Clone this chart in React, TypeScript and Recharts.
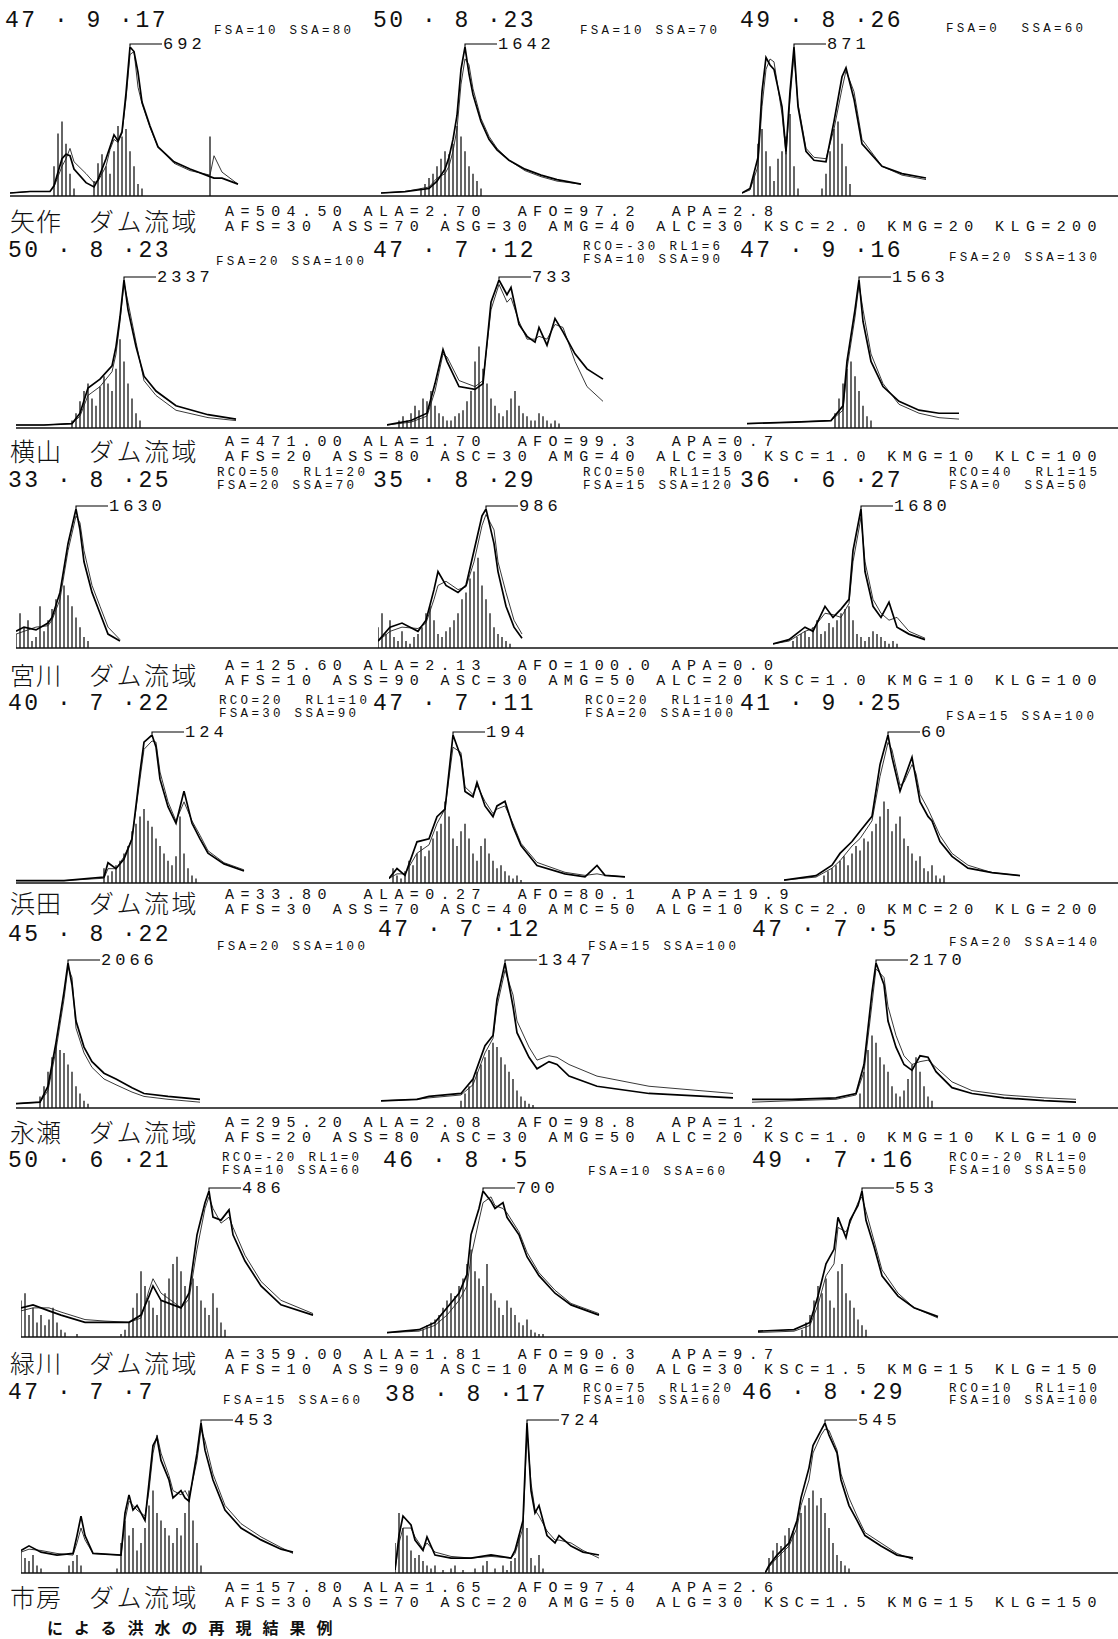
import React from 'react';
import { ComposedChart, Line, Bar, XAxis, YAxis, ReferenceDot } from 'recharts';

// ---------------- data (hours from start of each record, discharge m3/s, rainfall mm) ----------------
// Row 1 : 矢作
const r1aT = [0, 5, 10, 11, 13, 14, 15, 16, 19, 21, 22, 24, 25, 26, 27, 28, 29, 30, 31, 32, 33, 35, 37, 41, 45, 50, 51, 53, 57];
const r1aObs = [14, 21, 21, 48, 173, 194, 187, 125, 62, 42, 76, 173, 228, 284, 256, 298, 477, 692, 671, 574, 436, 325, 228, 159, 125, 90, 83, 83, 55];
const r1aCalc = [14, 21, 21, 42, 138, 173, 221, 159, 104, 62, 69, 138, 215, 263, 249, 291, 450, 657, 671, 505, 429, 318, 228, 152, 118, 97, 187, 111, 55];
const r1aRain = [20, 42, 50, 35, 15, 5, 0, 0, 0, 0, 10, 22, 28, 20, 15, 30, 47, 40, 45, 30, 20, 8, 5, 0, 0, 0, 0, 0, 0, 0, 0, 0, 0, 0, 0, 0, 0, 0, 0, 40];
const r1bT = [0, 6, 12, 14, 16, 17, 18, 19, 20, 21, 22, 23, 25, 27, 29, 32, 36, 40, 44, 50];
const r1bObs = [33, 49, 82, 164, 296, 427, 624, 887, 1396, 1642, 1346, 1117, 821, 624, 509, 394, 296, 230, 181, 131];
const r1bCalc = [33, 49, 99, 197, 246, 328, 493, 739, 1232, 1511, 1445, 1182, 854, 657, 525, 394, 279, 213, 164, 131];
const r1bRain = [5, 8, 12, 15, 20, 25, 30, 28, 35, 47, 40, 30, 20, 15, 10, 5];
const r1cT = [0, 2, 4, 5, 6, 7, 8, 10, 11, 12, 13, 14, 16, 18, 21, 23, 25, 26, 28, 30, 35, 40, 46];
const r1cObs = [17, 44, 226, 610, 810, 766, 740, 523, 261, 610, 871, 523, 261, 209, 200, 436, 697, 749, 566, 305, 174, 131, 105];
const r1cCalc = [17, 35, 174, 523, 740, 801, 784, 479, 244, 566, 827, 540, 279, 226, 218, 392, 627, 732, 610, 331, 174, 122, 96];
const r1cRain = [15, 35, 45, 30, 20, 10, 25, 30, 40, 55, 20, 5, 0, 0, 0, 0, 0, 5, 15, 30, 45, 50, 35, 20, 8];
// Row 2 : 横山
const r2aT = [0, 7, 14, 16, 18, 21, 24, 25, 26, 27, 28, 30, 32, 35, 40, 48, 55];
const r2aObs = [47, 47, 70, 234, 631, 771, 982, 1285, 1753, 2337, 1870, 1285, 818, 584, 351, 210, 140];
const r2aCalc = [47, 47, 70, 187, 514, 654, 888, 1169, 1683, 2290, 1986, 1355, 748, 514, 280, 164, 117];
const r2aRain = [5, 10, 18, 25, 30, 20, 15, 28, 35, 30, 25, 40, 60, 45, 30, 20, 10, 5];
const r2bT = [0, 6, 10, 12, 14, 15, 18, 22, 24, 26, 28, 30, 31, 33, 35, 37, 38, 40, 42, 44, 47, 50, 54];
const r2bObs = [15, 37, 73, 220, 388, 330, 205, 191, 220, 623, 733, 660, 696, 513, 454, 425, 498, 410, 542, 476, 367, 293, 242];
const r2bCalc = [15, 29, 59, 183, 367, 352, 235, 205, 235, 586, 711, 623, 645, 528, 440, 440, 454, 440, 513, 498, 330, 205, 132];
const r2bRain = [5, 8, 5, 10, 15, 12, 20, 18, 25, 15, 10, 8, 5, 5, 8, 10, 12, 18, 25, 45, 55, 40, 30, 20, 15, 10, 8, 12, 20, 25, 15, 10, 8, 5, 5, 10, 8, 5, 3, 5, 3];
const r2cT = [0, 12, 21, 24, 25, 27, 28, 29, 31, 34, 38, 43, 48, 53];
const r2cObs = [47, 63, 78, 234, 703, 1250, 1563, 1125, 703, 438, 281, 188, 156, 156];
const r2cCalc = [47, 63, 78, 188, 625, 1172, 1516, 1250, 782, 469, 250, 156, 109, 94];
const r2cRain = [10, 20, 30, 40, 45, 35, 25, 15, 8, 5];
// Row 3 : 宮川
const r3aT = [0, 2, 5, 8, 9, 11, 13, 15, 16, 17, 19, 21, 23, 26];
const r3aObs = [196, 245, 212, 293, 359, 652, 1223, 1630, 1386, 1011, 652, 408, 163, 82];
const r3aCalc = [163, 196, 245, 261, 326, 571, 1141, 1549, 1467, 1141, 734, 489, 245, 98];
const r3aRain = [10, 25, 15, 20, 5, 8, 30, 12, 20, 28, 35, 40, 45, 38, 30, 22, 15, 8, 5];
const r3bT = [0, 3, 6, 10, 12, 14, 15, 17, 20, 22, 24, 26, 27, 29, 30, 32, 34, 36];
const r3bObs = [49, 148, 177, 118, 197, 414, 542, 444, 394, 444, 690, 937, 986, 740, 542, 296, 148, 69];
const r3bCalc = [49, 118, 148, 138, 177, 345, 444, 473, 414, 434, 611, 868, 947, 838, 611, 394, 197, 99];
const r3bRain = [15, 25, 10, 20, 8, 5, 12, 5, 3, 8, 10, 15, 25, 30, 20, 10, 8, 12, 15, 20, 25, 35, 40, 50, 55, 65, 45, 35, 25, 15, 10, 8, 5, 3];
const r3cT = [0, 4, 8, 10, 13, 15, 17, 19, 20, 22, 23, 25, 27, 29, 31, 34, 38];
const r3cObs = [50, 101, 252, 202, 504, 370, 470, 588, 1176, 1680, 924, 504, 370, 554, 252, 168, 101];
const r3cCalc = [50, 84, 202, 235, 420, 403, 370, 538, 1042, 1579, 1042, 588, 420, 336, 370, 202, 118];
const r3cRain = [5, 8, 10, 12, 8, 15, 20, 10, 12, 18, 15, 20, 25, 28, 30, 20, 10, 8, 5, 8, 12, 10, 8, 5, 3, 5, 3];
// Row 4 : 浜田
const r4aT = [0, 12, 22, 23, 25, 27, 29, 31, 32, 34, 35, 36, 38, 40, 42, 44, 46, 48, 52, 57];
const r4aObs = [2, 2, 5, 17, 12, 20, 37, 93, 118, 124, 114, 87, 64, 50, 77, 50, 37, 25, 16, 10];
const r4aCalc = [2, 2, 4, 12, 12, 22, 37, 87, 112, 119, 118, 93, 68, 52, 68, 52, 40, 27, 17, 11];
const r4aRain = [10, 5, 8, 12, 15, 20, 25, 35, 40, 45, 50, 42, 38, 30, 25, 20, 15, 12, 18, 45, 20, 10, 5, 3];
const r4bT = [0, 2, 4, 7, 10, 12, 14, 16, 18, 19, 21, 22, 24, 26, 27, 29, 31, 33, 37, 44, 49, 52, 54, 59];
const r4bObs = [6, 19, 10, 54, 58, 87, 97, 194, 165, 120, 113, 132, 101, 87, 101, 107, 74, 49, 23, 12, 8, 23, 10, 8];
const r4bCalc = [6, 12, 12, 39, 50, 78, 97, 178, 171, 126, 116, 128, 107, 91, 97, 101, 78, 52, 27, 14, 10, 12, 10, 8];
const r4bRain = [10, 5, 3, 8, 15, 12, 20, 25, 18, 22, 30, 35, 40, 55, 45, 30, 25, 35, 40, 30, 20, 15, 25, 30, 20, 15, 10, 12, 8, 5, 3, 5, 2];
const r4cT = [0, 8, 12, 14, 17, 19, 22, 24, 26, 27, 29, 30, 32, 33, 34, 36, 37, 39, 42, 46, 52, 59];
const r4cObs = [1.2, 3, 7.2, 12, 16.8, 21, 27, 48, 60, 51, 37.2, 42, 51, 42, 33, 27, 25.2, 16.8, 10.8, 6, 4.2, 3];
const r4cCalc = [1.2, 2.4, 6, 9, 15, 18, 25.2, 43.2, 57, 54, 39.6, 40.8, 48, 44.4, 36, 30, 26.4, 19.2, 12, 7.2, 4.2, 3];
const r4cRain = [5, 8, 10, 12, 15, 18, 12, 20, 25, 22, 30, 28, 35, 40, 45, 55, 50, 35, 40, 45, 30, 25, 20, 15, 18, 10, 8, 12, 5, 3, 5];
// Row 5 : 永瀬
const r5aT = [0, 6, 8, 10, 12, 13, 14, 15, 17, 19, 22, 25, 29, 32, 38, 46];
const r5aObs = [62, 83, 310, 930, 1653, 2066, 1756, 1240, 868, 661, 496, 413, 289, 207, 165, 124];
const r5aCalc = [62, 83, 248, 826, 1550, 2004, 1859, 1136, 785, 578, 413, 331, 227, 165, 124, 83];
const r5aRain = [8, 15, 25, 35, 45, 40, 38, 30, 25, 15, 10, 5, 3];
const r5bT = [0, 9, 12, 20, 23, 26, 28, 29, 31, 33, 34, 37, 39, 42, 44, 47, 54, 67, 88];
const r5bObs = [67, 81, 108, 135, 269, 579, 674, 1010, 1347, 943, 700, 471, 364, 431, 404, 296, 202, 135, 94];
const r5bCalc = [67, 81, 94, 121, 216, 512, 647, 943, 1280, 1051, 808, 566, 445, 485, 471, 404, 296, 202, 135];
const r5bRain = [5, 10, 15, 20, 25, 30, 35, 40, 45, 42, 35, 30, 25, 20, 12, 8, 5, 3, 2];
const r5cT = [0, 10, 21, 26, 28, 30, 31, 33, 34, 36, 38, 40, 42, 44, 46, 50, 55, 63, 73, 81];
const r5cObs = [130, 130, 152, 217, 651, 1736, 2170, 1845, 1302, 911, 651, 564, 781, 760, 543, 304, 217, 152, 109, 87];
const r5cCalc = [87, 109, 130, 195, 543, 1562, 2083, 1953, 1519, 1085, 781, 651, 694, 716, 608, 391, 260, 195, 152, 130];
const r5cRain = [10, 25, 40, 50, 45, 35, 30, 25, 15, 10, 8, 12, 20, 30, 35, 25, 15, 8, 5];
// Row 6 : 緑川
const r6aT = [0, 3, 7, 10, 16, 21, 27, 30, 32, 33, 35, 38, 40, 42, 44, 46, 47, 48, 50, 52, 53, 56, 60, 65, 73];
const r6aObs = [97, 107, 87, 73, 49, 49, 49, 73, 136, 170, 122, 107, 97, 146, 340, 447, 486, 399, 389, 423, 340, 253, 170, 107, 73];
const r6aCalc = [87, 97, 97, 83, 58, 53, 49, 63, 156, 194, 146, 117, 97, 126, 292, 428, 467, 428, 379, 399, 365, 272, 185, 122, 78];
const r6aRain = [25, 30, 15, 20, 10, 15, 8, 12, 20, 10, 5, 3, 0, 0, 2, 0, 0, 0, 0, 0, 0, 0, 0, 0, 0, 2, 5, 10, 20, 30, 45, 35, 25, 20, 15, 25, 30, 40, 50, 55, 45, 35, 30, 40, 35, 25, 20, 15, 30, 20, 10, 5];
const r6bT = [0, 8, 12, 15, 18, 20, 21, 23, 24, 26, 27, 29, 30, 33, 35, 38, 42, 46, 53];
const r6bObs = [21, 35, 70, 140, 210, 301, 490, 616, 700, 651, 616, 644, 574, 490, 385, 294, 210, 154, 105];
const r6bCalc = [21, 28, 56, 105, 175, 245, 385, 560, 644, 672, 630, 616, 595, 504, 406, 308, 224, 161, 112];
const r6bRain = [5, 8, 10, 12, 15, 20, 25, 30, 28, 35, 40, 50, 60, 45, 40, 35, 50, 30, 25, 20, 15, 25, 20, 15, 10, 8, 12, 5, 3, 2, 2];
const r6cT = [0, 9, 13, 15, 17, 19, 20, 22, 23, 25, 26, 27, 29, 31, 35, 39, 45];
const r6cObs = [22, 28, 55, 155, 277, 332, 453, 376, 442, 498, 553, 442, 343, 232, 155, 111, 77];
const r6cCalc = [17, 22, 44, 122, 232, 277, 415, 398, 431, 509, 531, 476, 365, 254, 166, 111, 72];
const r6cRain = [5, 10, 15, 25, 35, 30, 40, 25, 20, 45, 50, 30, 25, 20, 12, 8, 5];
// Row 7 : 市房
const r7aT = [0, 2, 5, 9, 13, 14, 15, 16, 18, 25, 26, 27, 28, 29, 31, 32, 33, 34, 35, 37, 38, 40, 41, 42, 44, 45, 46, 48, 51, 55, 60, 65, 68];
const r7aObs = [68, 82, 63, 54, 59, 113, 172, 113, 59, 54, 181, 236, 190, 204, 159, 272, 385, 408, 340, 281, 227, 249, 227, 217, 362, 453, 371, 281, 190, 136, 100, 72, 63];
const r7aCalc = [63, 72, 68, 59, 54, 91, 136, 100, 59, 54, 159, 217, 204, 190, 172, 249, 362, 417, 362, 294, 249, 236, 249, 227, 340, 435, 399, 299, 204, 149, 109, 77, 59];
const r7aRain = [15, 10, 8, 12, 5, 3, 0, 0, 0, 0, 0, 0, 5, 8, 12, 5, 0, 0, 0, 0, 0, 0, 0, 0, 3, 20, 35, 25, 30, 15, 20, 30, 45, 55, 40, 35, 30, 25, 20, 30, 25, 40, 55, 35, 20, 5];
const r7bT = [0, 1, 2, 4, 5, 7, 8, 10, 14, 19, 24, 29, 30, 32, 33, 34, 35, 36, 38, 40, 41, 44, 47, 51];
const r7bObs = [14, 181, 275, 232, 159, 109, 174, 87, 72, 72, 87, 72, 109, 253, 724, 398, 290, 326, 181, 145, 181, 130, 101, 87];
const r7bCalc = [14, 145, 217, 217, 174, 116, 145, 101, 80, 72, 80, 72, 94, 217, 688, 434, 304, 275, 203, 159, 159, 145, 109, 72];
const r7bRain = [20, 40, 30, 25, 15, 10, 12, 8, 5, 3, 5, 0, 2, 0, 3, 5, 0, 2, 0, 0, 3, 0, 5, 8, 0, 3, 0, 5, 2, 8, 10, 25, 35, 30, 10, 5, 12, 3];
const r7cT = [0, 1, 3, 6, 8, 9, 11, 12, 14, 15, 16, 18, 19, 21, 23, 25, 29, 33, 37];
const r7cObs = [0, 27, 65, 109, 191, 273, 382, 463, 518, 545, 501, 436, 338, 245, 191, 136, 98, 65, 55];
const r7cCalc = [0, 22, 55, 98, 164, 245, 338, 436, 501, 523, 518, 447, 360, 273, 207, 147, 109, 71, 49];
const r7cRain = [10, 15, 20, 18, 25, 30, 28, 35, 40, 45, 50, 55, 45, 50, 40, 30, 20, 12, 8, 5, 3];

type PanelData = { t: number[]; obs: number[]; calc: number[]; rain: number[]; rainStart: number };

const PANELS: PanelData[][] = [
  [
    { t: r1aT, obs: r1aObs, calc: r1aCalc, rain: r1aRain, rainStart: 11 },
    { t: r1bT, obs: r1bObs, calc: r1bCalc, rain: r1bRain, rainStart: 10 },
    { t: r1cT, obs: r1cObs, calc: r1cCalc, rain: r1cRain, rainStart: 3 },
  ],
  [
    { t: r2aT, obs: r2aObs, calc: r2aCalc, rain: r2aRain, rainStart: 14 },
    { t: r2bT, obs: r2bObs, calc: r2bCalc, rain: r2bRain, rainStart: 3 },
    { t: r2cT, obs: r2cObs, calc: r2cCalc, rain: r2cRain, rainStart: 22 },
  ],
  [
    { t: r3aT, obs: r3aObs, calc: r3aCalc, rain: r3aRain, rainStart: 0 },
    { t: r3bT, obs: r3bObs, calc: r3bCalc, rain: r3bRain, rainStart: 0 },
    { t: r3cT, obs: r3cObs, calc: r3cCalc, rain: r3cRain, rainStart: 5 },
  ],
  [
    { t: r4aT, obs: r4aObs, calc: r4aCalc, rain: r4aRain, rainStart: 22 },
    { t: r4bT, obs: r4bObs, calc: r4bCalc, rain: r4bRain, rainStart: 1 },
    { t: r4cT, obs: r4cObs, calc: r4cCalc, rain: r4cRain, rainStart: 10 },
  ],
  [
    { t: r5aT, obs: r5aObs, calc: r5aCalc, rain: r5aRain, rainStart: 6 },
    { t: r5bT, obs: r5bObs, calc: r5bCalc, rain: r5bRain, rainStart: 20 },
    { t: r5cT, obs: r5cObs, calc: r5cCalc, rain: r5cRain, rainStart: 27 },
  ],
  [
    { t: r6aT, obs: r6aObs, calc: r6aCalc, rain: r6aRain, rainStart: 0 },
    { t: r6bT, obs: r6bObs, calc: r6bCalc, rain: r6bRain, rainStart: 9 },
    { t: r6cT, obs: r6cObs, calc: r6cCalc, rain: r6cRain, rainStart: 11 },
  ],
  [
    { t: r7aT, obs: r7aObs, calc: r7aCalc, rain: r7aRain, rainStart: 0 },
    { t: r7bT, obs: r7bObs, calc: r7bCalc, rain: r7bRain, rainStart: 0 },
    { t: r7cT, obs: r7cObs, calc: r7cCalc, rain: r7cRain, rainStart: 1 },
  ],
];

// ---------------- text ----------------
const BASIN_NAMES = ['矢作', '横山', '宮川', '浜田', '永瀬', '緑川', '市房'];
const PARAM_LINE1 = [
  'A=504.50 ALA=2.70  AFO=97.2  APA=2.8',
  'A=471.00 ALA=1.70  AFO=99.3  APA=0.7',
  'A=125.60 ALA=2.13  AFO=100.0 APA=0.0',
  'A=33.80  ALA=0.27  AFO=80.1  APA=19.9',
  'A=295.20 ALA=2.08  AFO=98.8  APA=1.2',
  'A=359.00 ALA=1.81  AFO=90.3  APA=9.7',
  'A=157.80 ALA=1.65  AFO=97.4  APA=2.6',
];
const PARAM_LINE2 = [
  'AFS=30 ASS=70 ASG=30 AMG=40 ALC=30 KSC=2.0 KMG=20 KLG=200',
  'AFS=20 ASS=80 ASC=30 AMG=40 ALC=30 KSC=1.0 KMG=10 KLC=100',
  'AFS=10 ASS=90 ASC=30 AMG=50 ALC=20 KSC=1.0 KMG=10 KLG=100',
  'AFS=30 ASS=70 ASC=40 AMC=50 ALG=10 KSC=2.0 KMC=20 KLG=200',
  'AFS=20 ASS=80 ASC=30 AMG=50 ALC=20 KSC=1.0 KMG=10 KLG=100',
  'AFS=10 ASS=90 ASC=10 AMG=60 ALG=30 KSC=1.5 KMG=15 KLG=150',
  'AFS=30 ASS=70 ASC=20 AMG=50 ALG=30 KSC=1.5 KMG=15 KLG=150',
];
const CAPTION = 'による洪水の再現結果例';

// header texts: [x, y(center), text, kind]  kind d = date, s = small
const HEADERS: [number, number, string, string][] = [
  [5, 21, '47 · 9 ·17', 'd'], [214, 31, 'FSA=10 SSA=80', 's'], [373, 21, '50 · 8 ·23', 'd'], [580, 31, 'FSA=10 SSA=70', 's'], [740, 21, '49 · 8 ·26', 'd'], [946, 29, 'FSA=0  SSA=60', 's'],
  [8, 251, '50 · 8 ·23', 'd'], [216, 262, 'FSA=20 SSA=100', 's'], [373, 251, '47 · 7 ·12', 'd'], [583, 247, 'RCO=-30 RL1=6', 's'], [583, 260, 'FSA=10 SSA=90', 's'], [740, 251, '47 · 9 ·16', 'd'], [949, 258, 'FSA=20 SSA=130', 's'],
  [8, 481, '33 · 8 ·25', 'd'], [217, 473, 'RCO=50  RL1=20', 's'], [217, 486, 'FSA=20 SSA=70', 's'], [373, 481, '35 · 8 ·29', 'd'], [583, 473, 'RCO=50  RL1=15', 's'], [583, 486, 'FSA=15 SSA=120', 's'], [740, 481, '36 · 6 ·27', 'd'], [949, 473, 'RCO=40  RL1=15', 's'], [949, 486, 'FSA=0  SSA=50', 's'],
  [8, 704, '40 · 7 ·22', 'd'], [219, 701, 'RCO=20  RL1=10', 's'], [219, 714, 'FSA=30 SSA=90', 's'], [373, 704, '47 · 7 ·11', 'd'], [585, 701, 'RCO=20  RL1=10', 's'], [585, 714, 'FSA=20 SSA=100', 's'], [740, 704, '41 · 9 ·25', 'd'], [946, 717, 'FSA=15 SSA=100', 's'],
  [8, 935, '45 · 8 ·22', 'd'], [217, 947, 'FSA=20 SSA=100', 's'], [378, 930, '47 · 7 ·12', 'd'], [588, 947, 'FSA=15 SSA=100', 's'], [752, 930, '47 · 7 ·5', 'd'], [949, 943, 'FSA=20 SSA=140', 's'],
  [8, 1161, '50 · 6 ·21', 'd'], [222, 1158, 'RCO=-20 RL1=0', 's'], [222, 1171, 'FSA=10 SSA=60', 's'], [383, 1161, '46 · 8 ·5', 'd'], [588, 1172, 'FSA=10 SSA=60', 's'], [752, 1161, '49 · 7 ·16', 'd'], [949, 1158, 'RCO=-20 RL1=0', 's'], [949, 1171, 'FSA=10 SSA=50', 's'],
  [8, 1393, '47 · 7 ·7', 'd'], [223, 1401, 'FSA=15 SSA=60', 's'], [385, 1395, '38 · 8 ·17', 'd'], [583, 1389, 'RCO=75  RL1=20', 's'], [583, 1401, 'FSA=10 SSA=60', 's'], [742, 1393, '46 · 8 ·29', 'd'], [949, 1389, 'RCO=10  RL1=10', 's'], [949, 1401, 'FSA=10 SSA=100', 's'],
];

// ---------------- layout ----------------
const PAGE_W = 1118;
const PX_PER_HOUR = 4;
const ROW_TOP = [47, 280, 509, 735, 963, 1191, 1423];
const ROW_BASE = [196, 428, 648, 883, 1108, 1337, 1573];
const PANEL_X0 = [
  [10, 381, 742],
  [16, 387, 747],
  [16, 378, 773],
  [16, 389, 784],
  [16, 381, 752],
  [21, 387, 758],
  [21, 395, 765],
];
const NAME_Y = [220, 450, 674, 902, 1131, 1362, 1596];
const LINE1_Y = [212, 442, 666, 895, 1123, 1355, 1588];

const MONO = '"Liberation Mono", "DejaVu Sans Mono", monospace';
const CJK = '"Noto Sans CJK JP", "Noto Sans CJK SC", sans-serif';

const MARGIN_TOP = 34;

function PeakMark(props: any) {
  const { cx, cy, label } = props;
  if (cx == null || cy == null) return null;
  const ly = cy - 3;
  return (
    <g>
      <path d={`M${cx},${cy} L${cx},${ly} L${cx + 32},${ly}`} stroke="#000" strokeWidth={1.1} fill="none" />
      <text x={cx + 33} y={ly} dominantBaseline="central" fontFamily={MONO} fontSize={17} style={{ letterSpacing: '4px' }} fill="#111">
        {label}
      </text>
    </g>
  );
}

function Panel({ p, x0, width, top, base }: { p: PanelData; x0: number; width: number; top: number; base: number }) {
  const flow = p.t.map((t, i) => ({ t, obs: p.obs[i], calc: p.calc[i] }));
  const rainRows = p.rain.map((r, i) => ({ t: p.rainStart + i, r }));
  const peak = Math.max(...p.obs);
  const tPeak = p.t[p.obs.indexOf(peak)];
  const chartTop = top - MARGIN_TOP;
  const height = base - top + MARGIN_TOP + 3;
  return (
    <div style={{ position: 'absolute', left: x0, top: chartTop }}>
      <ComposedChart width={width} height={height} data={rainRows} margin={{ top: MARGIN_TOP, right: 0, bottom: 2, left: 0 }}>
        <XAxis
          dataKey="t"
          type="number"
          domain={[0, width / PX_PER_HOUR]}
          allowDataOverflow
          tick={false}
          tickLine={false}
          height={1}
          axisLine={{ stroke: '#111', strokeWidth: 1.4 }}
        />
        <YAxis yAxisId="q" hide domain={[0, peak]} allowDataOverflow />
        <YAxis yAxisId="r" hide domain={[0, 100]} allowDataOverflow />
        <Bar yAxisId="r" dataKey="r" fill="#666" barSize={2} isAnimationActive={false} />
        <Line yAxisId="q" data={flow} dataKey="calc" type="linear" stroke="#222" strokeWidth={0.9} dot={false} isAnimationActive={false} />
        <Line yAxisId="q" data={flow} dataKey="obs" type="linear" stroke="#000" strokeWidth={1.7} dot={false} isAnimationActive={false} />
        <ReferenceDot
          yAxisId="q"
          x={tPeak}
          y={peak}
          r={0}
          ifOverflow="visible"
          shape={(s: any) => <PeakMark cx={s.cx} cy={s.cy} label={peak} />}
        />
      </ComposedChart>
    </div>
  );
}

const textBase: React.CSSProperties = {
  position: 'absolute',
  lineHeight: 1,
  whiteSpace: 'pre',
  transform: 'translateY(-50%)',
  color: '#111',
};

const paramStyle: React.CSSProperties = {
  ...textBase,
  left: 225,
  fontFamily: MONO,
  fontSize: 15,
  letterSpacing: 6.4,
};

export default function App() {
  return (
    <div style={{ position: 'absolute', left: 0, top: 0, width: PAGE_W, height: 1639, background: '#fff', overflow: 'hidden' }}>
      {PANELS.map((row, ri) =>
        row.map((p, ci) => {
          const x0 = PANEL_X0[ri][ci];
          const next = ci < 2 ? PANEL_X0[ri][ci + 1] : PAGE_W;
          return <Panel key={`${ri}-${ci}`} p={p} x0={x0} width={next - x0} top={ROW_TOP[ri]} base={ROW_BASE[ri]} />;
        })
      )}
      {HEADERS.map(([x, y, s, k], i) => (
        <div
          key={`h${i}`}
          style={{
            ...textBase,
            left: x,
            top: y,
            fontFamily: MONO,
            fontSize: k === 'd' ? 23 : 12.5,
            letterSpacing: k === 'd' ? 2.5 : 3.3,
          }}
        >
          {s}
        </div>
      ))}
      {BASIN_NAMES.map((n, i) => (
        <React.Fragment key={`n${i}`}>
          <div style={{ ...textBase, left: 10, top: NAME_Y[i], fontFamily: CJK, fontWeight: 300, fontSize: 25, letterSpacing: 1 }}>{n}</div>
          <div style={{ ...textBase, left: 89, top: NAME_Y[i], fontFamily: CJK, fontWeight: 300, fontSize: 25, letterSpacing: 2.5 }}>ダム流域</div>
          <div style={{ ...paramStyle, top: LINE1_Y[i] }}>{PARAM_LINE1[i]}</div>
          <div style={{ ...paramStyle, top: LINE1_Y[i] + 15 }}>{PARAM_LINE2[i]}</div>
        </React.Fragment>
      ))}
      <div style={{ ...textBase, left: 47, top: 1627, fontFamily: CJK, fontWeight: 700, fontSize: 16, letterSpacing: 11 }}>{CAPTION}</div>
    </div>
  );
}
